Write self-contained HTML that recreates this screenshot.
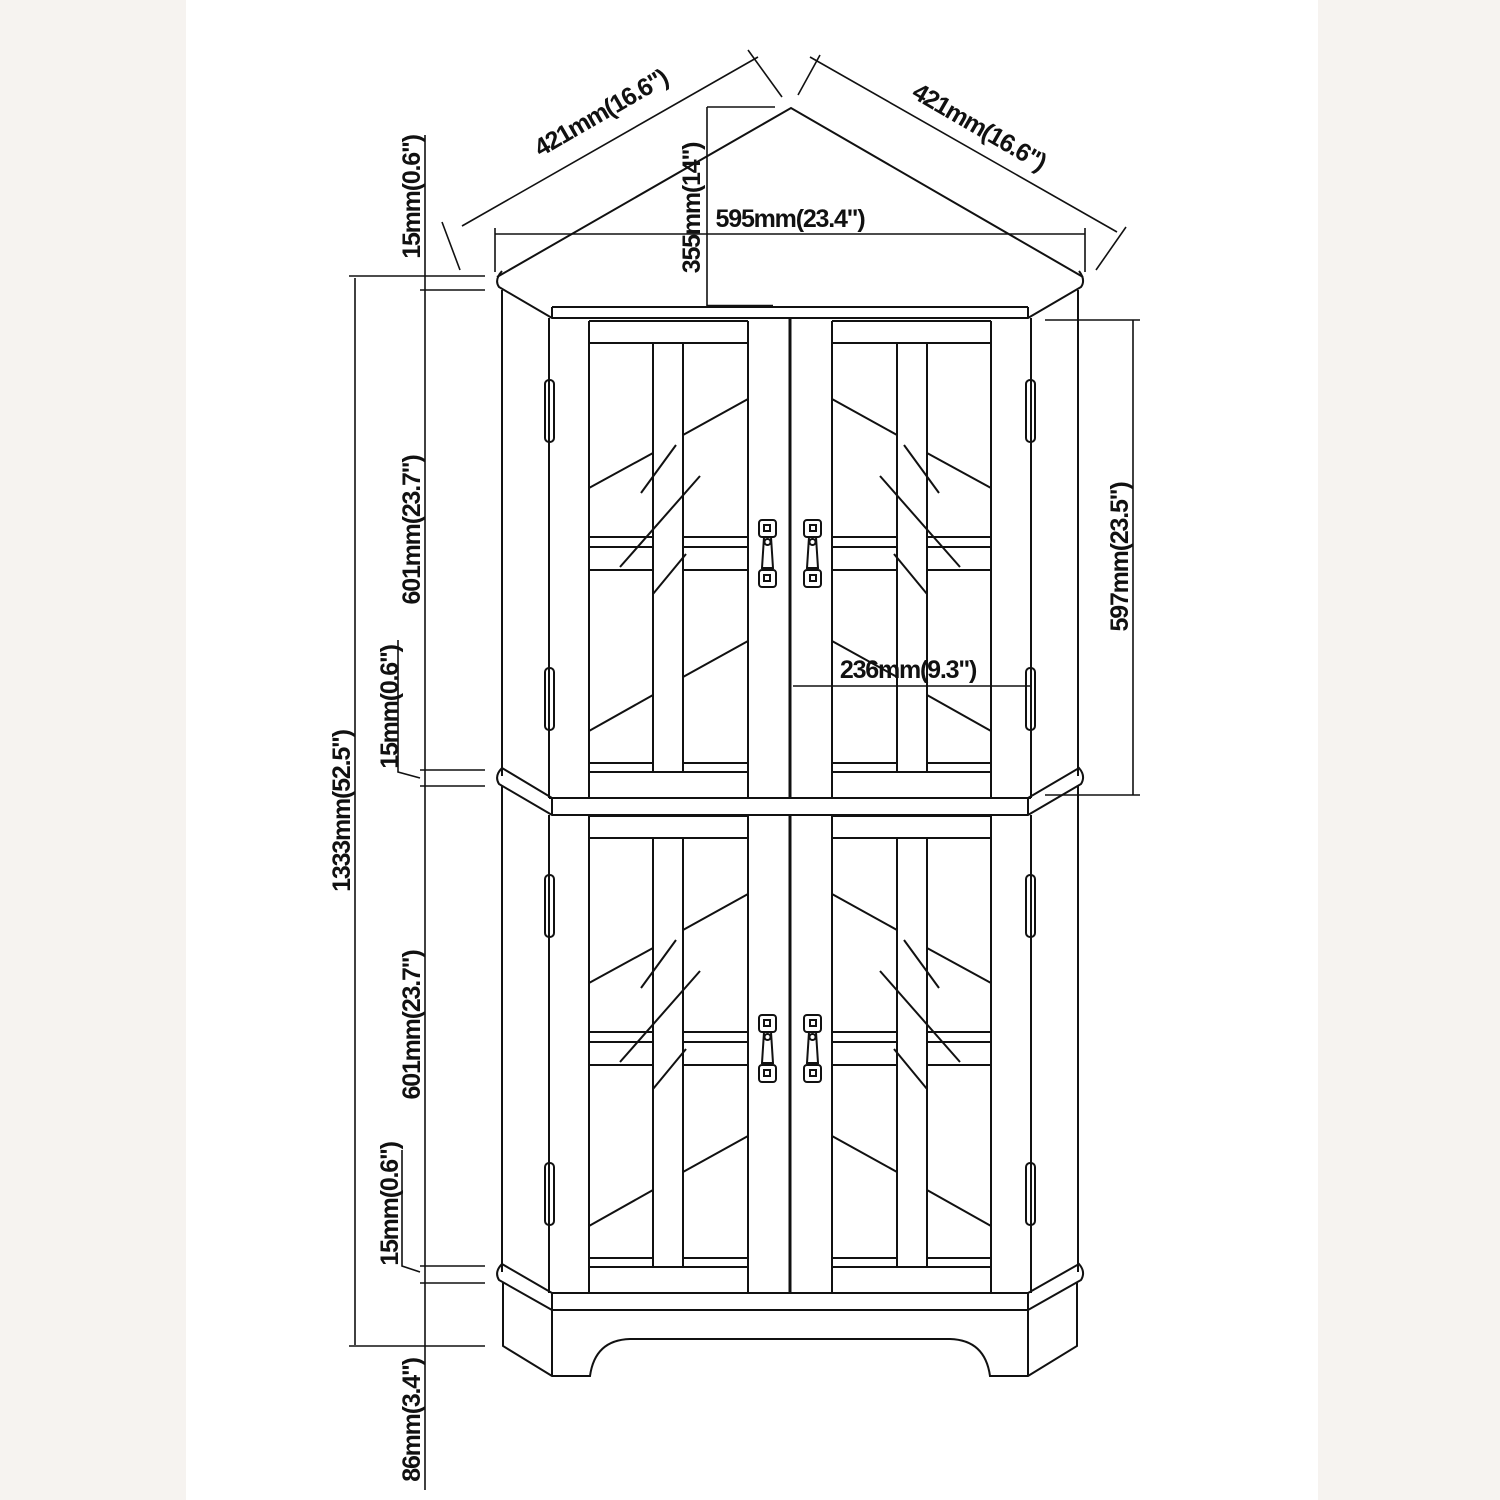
<!DOCTYPE html>
<html><head><meta charset="utf-8"><style>
html,body{margin:0;padding:0;background:#f6f3f0;}
svg{display:block}
text{font-family:"Liberation Sans",Arial,sans-serif;font-weight:bold;font-size:25px;fill:#111;letter-spacing:-1.2px}
</style></head><body>
<svg width="1500" height="1500" viewBox="0 0 1500 1500" xmlns="http://www.w3.org/2000/svg">
<rect x="0" y="0" width="1500" height="1500" fill="#f6f3f0"/>
<rect x="186" y="0" width="1132" height="1500" fill="#ffffff"/>
<defs>
<g id="door" fill="none" stroke="#111" stroke-width="2">
  <line x1="589" y1="0" x2="589" y2="476"/>
  <line x1="748" y1="0" x2="748" y2="476"/>
  <line x1="589" y1="0" x2="748" y2="0"/>
  <line x1="589" y1="22" x2="748" y2="22"/>
  <rect x="653" y="22" width="30" height="429"/>
  <line x1="589" y1="216" x2="653" y2="216"/>
  <line x1="589" y1="226" x2="653" y2="226"/>
  <line x1="589" y1="249" x2="653" y2="249"/>
  <line x1="683" y1="216" x2="748" y2="216"/>
  <line x1="683" y1="226" x2="748" y2="226"/>
  <line x1="683" y1="249" x2="748" y2="249"/>
  <line x1="589" y1="442" x2="653" y2="442"/>
  <line x1="589" y1="451" x2="748" y2="451"/>
  <line x1="683" y1="442" x2="748" y2="442"/>
  <line x1="589" y1="167" x2="653" y2="132"/>
  <line x1="683" y1="114" x2="748" y2="78"/>
  <line x1="641" y1="172" x2="676" y2="124"/>
  <line x1="620" y1="246" x2="700" y2="155"/>
  <line x1="653" y1="273" x2="686" y2="233"/>
  <line x1="589" y1="410" x2="653" y2="374"/>
  <line x1="683" y1="356" x2="748" y2="320"/>
  <rect x="545" y="59" width="9" height="62" rx="4"/>
  <rect x="545" y="347" width="9" height="62" rx="4"/>
  <rect x="759" y="199" width="17" height="17" rx="3"/>
  <rect x="764" y="204" width="6" height="6"/>
  <rect x="759" y="249" width="17" height="17" rx="3"/>
  <rect x="764" y="254" width="6" height="6"/>
  <path d="M764 216 L762 247 L773 247 L771 216 Z"/>
  <circle cx="767.5" cy="221" r="3"/>
</g>
</defs>

<g fill="none" stroke="#111" stroke-width="2">
<path d="M497 277 L791 108 L1083 277"/>
<path d="M502 271 Q494 280 499 287 L552 318 L1028 318 L1081 287 Q1086 280 1079 271"/>
<line x1="552" y1="307" x2="1028" y2="307"/>
<line x1="552" y1="307" x2="552" y2="318"/>
<line x1="1028" y1="307" x2="1028" y2="318"/>
<line x1="502" y1="290" x2="502" y2="776"/>
<line x1="549" y1="318" x2="549" y2="798"/>
<line x1="1078" y1="290" x2="1078" y2="776"/>
<line x1="1031" y1="318" x2="1031" y2="798"/>
<line x1="790" y1="318" x2="790" y2="798" stroke-width="3"/>
<path d="M502 768 Q494 776 499 784 L552 815 L1028 815 L1081 784 Q1086 776 1079 768 L1028 798 L552 798 Z"/>
<line x1="552" y1="798" x2="552" y2="815"/>
<line x1="1028" y1="798" x2="1028" y2="815"/>
<line x1="549" y1="798" x2="1031" y2="798"/>
<line x1="502" y1="786" x2="502" y2="1272"/>
<line x1="549" y1="815" x2="549" y2="1293"/>
<line x1="1078" y1="786" x2="1078" y2="1272"/>
<line x1="1031" y1="815" x2="1031" y2="1293"/>
<line x1="790" y1="815" x2="790" y2="1293" stroke-width="3"/>
<path d="M502 1264 Q494 1272 499 1280 L552 1310 L1028 1310 L1081 1280 Q1086 1272 1079 1264 L1028 1293 L552 1293 Z"/>
<line x1="552" y1="1293" x2="552" y2="1310"/>
<line x1="1028" y1="1293" x2="1028" y2="1310"/>
<path d="M503 1283 L503 1346 L552 1376 L590 1376 Q595 1340 630 1339 L950 1339 Q985 1340 990 1376 L1028 1376 L1077 1346 L1077 1283"/>
<line x1="552" y1="1310" x2="552" y2="1376"/>
<line x1="1028" y1="1310" x2="1028" y2="1376"/>
</g>

<use href="#door" transform="translate(0,321)"/>
<use href="#door" transform="translate(1580,321) scale(-1,1)"/>
<use href="#door" transform="translate(0,816)"/>
<use href="#door" transform="translate(1580,816) scale(-1,1)"/>

<g fill="none" stroke="#111" stroke-width="1.6">
  <line x1="462" y1="226" x2="758" y2="57"/>
  <line x1="442" y1="222" x2="460" y2="270"/>
  <line x1="748" y1="50" x2="782" y2="97"/>
  <line x1="810" y1="57" x2="1117" y2="232"/>
  <line x1="820" y1="55" x2="798" y2="95"/>
  <line x1="1126" y1="227" x2="1096" y2="270"/>
  <line x1="495" y1="234" x2="1085" y2="234"/>
  <line x1="495" y1="228" x2="495" y2="272"/>
  <line x1="1085" y1="228" x2="1085" y2="272"/>
  <line x1="707" y1="107" x2="707" y2="306"/>
  <line x1="707" y1="107" x2="775" y2="107"/>
  <line x1="707" y1="306" x2="773" y2="306" stroke-width="2.5"/>
  <line x1="355" y1="278" x2="355" y2="1345"/>
  <line x1="349" y1="276" x2="485" y2="276"/>
  <line x1="349" y1="1346" x2="485" y2="1346"/>
  <line x1="425" y1="135" x2="425" y2="1490"/>
  <line x1="420" y1="290" x2="485" y2="290"/>
  <line x1="420" y1="770" x2="485" y2="770"/>
  <line x1="420" y1="786" x2="485" y2="786"/>
  <line x1="420" y1="1266" x2="485" y2="1266"/>
  <line x1="420" y1="1283" x2="485" y2="1283"/>
  <path d="M398 640 L398 772 L420 778"/>
  <path d="M402 1150 L402 1266 L420 1272"/>
  <line x1="1133" y1="320" x2="1133" y2="795"/>
  <line x1="1045" y1="320" x2="1140" y2="320"/>
  <line x1="1045" y1="795" x2="1140" y2="795"/>
  <line x1="793" y1="686" x2="1030" y2="686"/>
</g>

<text x="605" y="120" text-anchor="middle" transform="rotate(-30 605 120)">421mm(16.6")</text>
<text x="975" y="134" text-anchor="middle" transform="rotate(30 975 134)">421mm(16.6")</text>
<text x="790" y="227" text-anchor="middle">595mm(23.4")</text>
<text x="700" y="208" text-anchor="middle" transform="rotate(-90 700 208)">355mm(14")</text>
<text x="420" y="197" text-anchor="middle" transform="rotate(-90 420 197)">15mm(0.6")</text>
<text x="420" y="530" text-anchor="middle" transform="rotate(-90 420 530)">601mm(23.7")</text>
<text x="398" y="707" text-anchor="middle" transform="rotate(-90 398 707)">15mm(0.6")</text>
<text x="350" y="811" text-anchor="middle" transform="rotate(-90 350 811)">1333mm(52.5")</text>
<text x="420" y="1025" text-anchor="middle" transform="rotate(-90 420 1025)">601mm(23.7")</text>
<text x="398" y="1204" text-anchor="middle" transform="rotate(-90 398 1204)">15mm(0.6")</text>
<text x="420" y="1420" text-anchor="middle" transform="rotate(-90 420 1420)">86mm(3.4")</text>
<text x="1128" y="557" text-anchor="middle" transform="rotate(-90 1128 557)">597mm(23.5")</text>
<text x="908" y="678" text-anchor="middle">236mm(9.3")</text>
</svg>
</body></html>
